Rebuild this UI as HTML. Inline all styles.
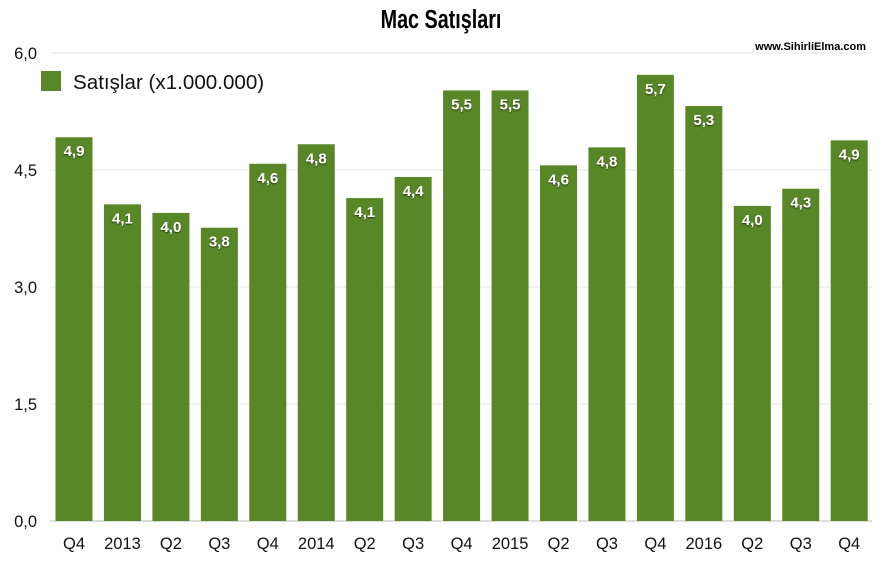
<!DOCTYPE html>
<html><head><meta charset="utf-8"><style>
body{margin:0;background:#fff;font-family:"Liberation Sans",sans-serif;}
svg text{font-family:"Liberation Sans",sans-serif;}
</style></head><body>
<svg width="882" height="560">
<defs><filter id="sh"><feDropShadow dx="0" dy="1" stdDeviation="0.8" flood-color="#000" flood-opacity="0.6"/></filter></defs>
<text x="441" y="28" text-anchor="middle" font-size="26" font-weight="bold" transform="translate(441,0) scale(0.76,1) translate(-441,0)">Mac Satışları</text>
<text x="866" y="50" text-anchor="end" font-size="11" font-weight="bold">www.SihirliElma.com</text>
<g id="grid"></g>
<g id="bars"></g>
<g id="xl"></g>
<rect x="41" y="71" width="20" height="20" fill="#578727"/>
<text x="73" y="89" font-size="20.6" fill="#111">Satışlar (x1.000.000)</text>
</svg>
<script>
const categories=["Q4","2013","Q2","Q3","Q4","2014","Q2","Q3","Q4","2015","Q2","Q3","Q4","2016","Q2","Q3","Q4"];
const values=[4.92,4.06,3.95,3.76,4.58,4.83,4.14,4.41,5.52,5.52,4.56,4.79,5.72,5.32,4.04,4.26,4.88];
const valueLabels=["4,9","4,1","4,0","3,8","4,6","4,8","4,1","4,4","5,5","5,5","4,6","4,8","5,7","5,3","4,0","4,3","4,9"];
const ticks=[0,1.5,3,4.5,6];
const tickLabels=["0,0","1,5","3,0","4,5","6,0"];
const NS="http://www.w3.org/2000/svg";
const y=v=>521-v*78;
const xc=i=>74+i*48.45;
function mk(t,a,p,txt){const e=document.createElementNS(NS,t);for(const k in a)e.setAttribute(k,a[k]);if(txt!=null)e.textContent=txt;p.appendChild(e);return e;}
const g=document.getElementById('grid'),b=document.getElementById('bars'),xl=document.getElementById('xl');
ticks.forEach((t,i)=>{
 const l=mk('line',{x1:50,x2:872,y1:y(t),y2:y(t),stroke:t===0?'#bbb':'#e6e6e6','stroke-width':1},g);
 
 
 const tx=mk('text',{x:37,y:y(t)+6,'text-anchor':'end','font-size':16.5,fill:'#111'},g,tickLabels[i]);
 
 
});
values.forEach((v,i)=>{
 const r=mk('rect',{x:xc(i)-18.5,y:y(v),width:37,height:y(0)-y(v),fill:'#578727'},b);
 
 
 const t=mk('text',{x:xc(i),y:y(v)+19,'text-anchor':'middle','font-size':15,'font-weight':'bold',fill:'#fff',filter:'url(#sh)'},b,valueLabels[i]);
 
 
 const c=mk('text',{x:xc(i),y:549,'text-anchor':'middle','font-size':16.5,fill:'#111'},xl,categories[i]);
 
 
});
</script>
</body></html>
